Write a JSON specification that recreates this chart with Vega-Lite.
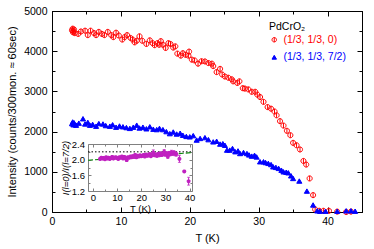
{
  "$schema": "https://vega.github.io/schema/vega-lite/v6.json",
  "autosize": {"type": "none"},
  "padding": {"left": 52, "top": 11, "right": 12, "bottom": 37},
  "width": 310,
  "height": 201,
  "background": "white",
  "config": {
    "font": "Liberation Sans",
    "view": {"stroke": "black", "strokeWidth": 1},
    "axis": {"grid": false, "labelFont": "Liberation Sans", "titleFont": "Liberation Sans", "labelFontSize": 10.5, "titleFontSize": 11, "titleFontWeight": "normal", "domainColor": "black", "tickColor": "black", "labelColor": "black", "titleColor": "black", "labelFlush": false, "labelOverlap": false},
    "legend": {"labelFont": "Liberation Sans", "titleFont": "Liberation Sans"}
  },
  "datasets": {
    "main": [
      {"T": 2.9, "I": 4520, "series": "(1/3, 1/3, 0)"}, {"T": 3.0, "I": 4560, "series": "(1/3, 1/3, 0)"}, {"T": 3.05, "I": 4470, "series": "(1/3, 1/3, 0)"}, {"T": 3.1, "I": 4500, "series": "(1/3, 1/3, 0)"}, {"T": 3.2, "I": 4540, "series": "(1/3, 1/3, 0)"}, {"T": 3.3, "I": 4450, "series": "(1/3, 1/3, 0)"},
      {"T": 3.8, "I": 4430, "series": "(1/3, 1/3, 0)"}, {"T": 4.2, "I": 4490, "series": "(1/3, 1/3, 0)"}, {"T": 4.8, "I": 4510, "series": "(1/3, 1/3, 0)"}, {"T": 5.2, "I": 4400, "series": "(1/3, 1/3, 0)"}, {"T": 5.6, "I": 4510, "series": "(1/3, 1/3, 0)"}, {"T": 6.1, "I": 4450, "series": "(1/3, 1/3, 0)"},
      {"T": 6.4, "I": 4400, "series": "(1/3, 1/3, 0)"}, {"T": 6.8, "I": 4480, "series": "(1/3, 1/3, 0)"}, {"T": 7.25, "I": 4430, "series": "(1/3, 1/3, 0)"}, {"T": 7.6, "I": 4400, "series": "(1/3, 1/3, 0)"}, {"T": 8.1, "I": 4480, "series": "(1/3, 1/3, 0)"}, {"T": 8.6, "I": 4400, "series": "(1/3, 1/3, 0)"},
      {"T": 8.9, "I": 4350, "series": "(1/3, 1/3, 0)"}, {"T": 9.3, "I": 4460, "series": "(1/3, 1/3, 0)"}, {"T": 9.7, "I": 4390, "series": "(1/3, 1/3, 0)"}, {"T": 10.2, "I": 4290, "series": "(1/3, 1/3, 0)"}, {"T": 10.55, "I": 4350, "series": "(1/3, 1/3, 0)"}, {"T": 10.9, "I": 4400, "series": "(1/3, 1/3, 0)"},
      {"T": 11.4, "I": 4330, "series": "(1/3, 1/3, 0)"}, {"T": 11.7, "I": 4290, "series": "(1/3, 1/3, 0)"}, {"T": 12.0, "I": 4220, "series": "(1/3, 1/3, 0)"}, {"T": 12.3, "I": 4260, "series": "(1/3, 1/3, 0)"}, {"T": 12.7, "I": 4370, "series": "(1/3, 1/3, 0)"}, {"T": 13.1, "I": 4260, "series": "(1/3, 1/3, 0)"},
      {"T": 13.7, "I": 4180, "series": "(1/3, 1/3, 0)"}, {"T": 14.2, "I": 4270, "series": "(1/3, 1/3, 0)"}, {"T": 14.6, "I": 4200, "series": "(1/3, 1/3, 0)"}, {"T": 14.9, "I": 4150, "series": "(1/3, 1/3, 0)"}, {"T": 15.3, "I": 4200, "series": "(1/3, 1/3, 0)"}, {"T": 15.55, "I": 4160, "series": "(1/3, 1/3, 0)"},
      {"T": 15.8, "I": 4250, "series": "(1/3, 1/3, 0)"}, {"T": 16.1, "I": 4160, "series": "(1/3, 1/3, 0)"}, {"T": 16.5, "I": 4080, "series": "(1/3, 1/3, 0)"}, {"T": 16.9, "I": 4200, "series": "(1/3, 1/3, 0)"}, {"T": 17.2, "I": 4180, "series": "(1/3, 1/3, 0)"}, {"T": 17.6, "I": 4090, "series": "(1/3, 1/3, 0)"},
      {"T": 17.9, "I": 4120, "series": "(1/3, 1/3, 0)"}, {"T": 18.2, "I": 3940, "series": "(1/3, 1/3, 0)"}, {"T": 18.7, "I": 3890, "series": "(1/3, 1/3, 0)"}, {"T": 19.0, "I": 3950, "series": "(1/3, 1/3, 0)"}, {"T": 19.4, "I": 3910, "series": "(1/3, 1/3, 0)"}, {"T": 19.8, "I": 3890, "series": "(1/3, 1/3, 0)"},
      {"T": 19.9, "I": 3990, "series": "(1/3, 1/3, 0)"}, {"T": 20.3, "I": 3790, "series": "(1/3, 1/3, 0)"}, {"T": 20.7, "I": 3770, "series": "(1/3, 1/3, 0)"}, {"T": 21.2, "I": 3690, "series": "(1/3, 1/3, 0)"}, {"T": 21.7, "I": 3750, "series": "(1/3, 1/3, 0)"}, {"T": 22.2, "I": 3745, "series": "(1/3, 1/3, 0)"},
      {"T": 22.7, "I": 3705, "series": "(1/3, 1/3, 0)"}, {"T": 23.2, "I": 3690, "series": "(1/3, 1/3, 0)"}, {"T": 23.4, "I": 3630, "series": "(1/3, 1/3, 0)"}, {"T": 23.9, "I": 3480, "series": "(1/3, 1/3, 0)"}, {"T": 24.4, "I": 3560, "series": "(1/3, 1/3, 0)"}, {"T": 24.7, "I": 3420, "series": "(1/3, 1/3, 0)"},
      {"T": 25.1, "I": 3370, "series": "(1/3, 1/3, 0)"}, {"T": 25.6, "I": 3340, "series": "(1/3, 1/3, 0)"}, {"T": 26.1, "I": 3300, "series": "(1/3, 1/3, 0)"}, {"T": 26.3, "I": 3250, "series": "(1/3, 1/3, 0)"}, {"T": 26.9, "I": 3210, "series": "(1/3, 1/3, 0)"}, {"T": 27.2, "I": 3250, "series": "(1/3, 1/3, 0)"},
      {"T": 27.7, "I": 3080, "series": "(1/3, 1/3, 0)"}, {"T": 28.0, "I": 3070, "series": "(1/3, 1/3, 0)"}, {"T": 28.5, "I": 3050, "series": "(1/3, 1/3, 0)"}, {"T": 29.0, "I": 2990, "series": "(1/3, 1/3, 0)"}, {"T": 29.5, "I": 2990, "series": "(1/3, 1/3, 0)"}, {"T": 29.8, "I": 2920, "series": "(1/3, 1/3, 0)"},
      {"T": 30.2, "I": 2860, "series": "(1/3, 1/3, 0)"}, {"T": 30.7, "I": 2740, "series": "(1/3, 1/3, 0)"}, {"T": 31.3, "I": 2610, "series": "(1/3, 1/3, 0)"}, {"T": 31.8, "I": 2570, "series": "(1/3, 1/3, 0)"}, {"T": 32.3, "I": 2500, "series": "(1/3, 1/3, 0)"}, {"T": 32.6, "I": 2405, "series": "(1/3, 1/3, 0)"},
      {"T": 33.1, "I": 2260, "series": "(1/3, 1/3, 0)"}, {"T": 33.6, "I": 2150, "series": "(1/3, 1/3, 0)"}, {"T": 34.1, "I": 2020, "series": "(1/3, 1/3, 0)"}, {"T": 34.6, "I": 1910, "series": "(1/3, 1/3, 0)"}, {"T": 35.0, "I": 1720, "series": "(1/3, 1/3, 0)"}, {"T": 35.5, "I": 1660, "series": "(1/3, 1/3, 0)"},
      {"T": 36.0, "I": 1555, "series": "(1/3, 1/3, 0)"}, {"T": 36.5, "I": 1270, "series": "(1/3, 1/3, 0)"}, {"T": 36.9, "I": 1180, "series": "(1/3, 1/3, 0)"}, {"T": 37.4, "I": 835, "series": "(1/3, 1/3, 0)"}, {"T": 37.9, "I": 420, "series": "(1/3, 1/3, 0)"}, {"T": 38.2, "I": 65, "series": "(1/3, 1/3, 0)"},
      {"T": 38.8, "I": 30, "series": "(1/3, 1/3, 0)"}, {"T": 39.4, "I": 30, "series": "(1/3, 1/3, 0)"}, {"T": 40.2, "I": 30, "series": "(1/3, 1/3, 0)"}, {"T": 41.4, "I": 10, "series": "(1/3, 1/3, 0)"}, {"T": 42.7, "I": 0, "series": "(1/3, 1/3, 0)"}, {"T": 43.4, "I": 10, "series": "(1/3, 1/3, 0)"},
      {"T": 2.9, "I": 2200, "series": "(1/3, 1/3, 7/2)"}, {"T": 3.0, "I": 2240, "series": "(1/3, 1/3, 7/2)"}, {"T": 3.1, "I": 2170, "series": "(1/3, 1/3, 7/2)"}, {"T": 3.2, "I": 2220, "series": "(1/3, 1/3, 7/2)"}, {"T": 3.3, "I": 2180, "series": "(1/3, 1/3, 7/2)"}, {"T": 3.5, "I": 2160, "series": "(1/3, 1/3, 7/2)"},
      {"T": 3.9, "I": 2210, "series": "(1/3, 1/3, 7/2)"}, {"T": 4.5, "I": 2320, "series": "(1/3, 1/3, 7/2)"}, {"T": 4.8, "I": 2190, "series": "(1/3, 1/3, 7/2)"}, {"T": 5.2, "I": 2230, "series": "(1/3, 1/3, 7/2)"}, {"T": 5.5, "I": 2160, "series": "(1/3, 1/3, 7/2)"}, {"T": 5.9, "I": 2180, "series": "(1/3, 1/3, 7/2)"},
      {"T": 6.4, "I": 2135, "series": "(1/3, 1/3, 7/2)"}, {"T": 6.8, "I": 2200, "series": "(1/3, 1/3, 7/2)"}, {"T": 7.4, "I": 2190, "series": "(1/3, 1/3, 7/2)"}, {"T": 7.8, "I": 2150, "series": "(1/3, 1/3, 7/2)"}, {"T": 8.4, "I": 2135, "series": "(1/3, 1/3, 7/2)"}, {"T": 8.8, "I": 2170, "series": "(1/3, 1/3, 7/2)"},
      {"T": 9.3, "I": 2110, "series": "(1/3, 1/3, 7/2)"}, {"T": 9.8, "I": 2140, "series": "(1/3, 1/3, 7/2)"}, {"T": 10.3, "I": 2120, "series": "(1/3, 1/3, 7/2)"}, {"T": 10.8, "I": 2100, "series": "(1/3, 1/3, 7/2)"}, {"T": 11.3, "I": 2080, "series": "(1/3, 1/3, 7/2)"}, {"T": 11.8, "I": 2110, "series": "(1/3, 1/3, 7/2)"},
      {"T": 12.3, "I": 2160, "series": "(1/3, 1/3, 7/2)"}, {"T": 12.7, "I": 2090, "series": "(1/3, 1/3, 7/2)"}, {"T": 13.2, "I": 2110, "series": "(1/3, 1/3, 7/2)"}, {"T": 13.7, "I": 2070, "series": "(1/3, 1/3, 7/2)"}, {"T": 14.2, "I": 2120, "series": "(1/3, 1/3, 7/2)"}, {"T": 14.7, "I": 2060, "series": "(1/3, 1/3, 7/2)"},
      {"T": 15.2, "I": 2050, "series": "(1/3, 1/3, 7/2)"}, {"T": 15.6, "I": 2080, "series": "(1/3, 1/3, 7/2)"}, {"T": 16.1, "I": 2050, "series": "(1/3, 1/3, 7/2)"}, {"T": 16.6, "I": 2000, "series": "(1/3, 1/3, 7/2)"}, {"T": 17.1, "I": 1950, "series": "(1/3, 1/3, 7/2)"}, {"T": 17.6, "I": 1990, "series": "(1/3, 1/3, 7/2)"},
      {"T": 18.1, "I": 1940, "series": "(1/3, 1/3, 7/2)"}, {"T": 18.6, "I": 1960, "series": "(1/3, 1/3, 7/2)"}, {"T": 19.0, "I": 1910, "series": "(1/3, 1/3, 7/2)"}, {"T": 19.5, "I": 1880, "series": "(1/3, 1/3, 7/2)"}, {"T": 20.0, "I": 1870, "series": "(1/3, 1/3, 7/2)"}, {"T": 20.5, "I": 1900, "series": "(1/3, 1/3, 7/2)"},
      {"T": 21.0, "I": 1790, "series": "(1/3, 1/3, 7/2)"}, {"T": 21.5, "I": 1830, "series": "(1/3, 1/3, 7/2)"}, {"T": 22.2, "I": 1850, "series": "(1/3, 1/3, 7/2)"}, {"T": 22.7, "I": 1800, "series": "(1/3, 1/3, 7/2)"}, {"T": 23.4, "I": 1745, "series": "(1/3, 1/3, 7/2)"}, {"T": 23.9, "I": 1760, "series": "(1/3, 1/3, 7/2)"},
      {"T": 24.4, "I": 1690, "series": "(1/3, 1/3, 7/2)"}, {"T": 24.8, "I": 1700, "series": "(1/3, 1/3, 7/2)"}, {"T": 25.1, "I": 1660, "series": "(1/3, 1/3, 7/2)"}, {"T": 25.4, "I": 1540, "series": "(1/3, 1/3, 7/2)"}, {"T": 25.8, "I": 1540, "series": "(1/3, 1/3, 7/2)"}, {"T": 26.2, "I": 1580, "series": "(1/3, 1/3, 7/2)"},
      {"T": 26.6, "I": 1500, "series": "(1/3, 1/3, 7/2)"}, {"T": 27.0, "I": 1520, "series": "(1/3, 1/3, 7/2)"}, {"T": 27.3, "I": 1455, "series": "(1/3, 1/3, 7/2)"}, {"T": 27.8, "I": 1480, "series": "(1/3, 1/3, 7/2)"}, {"T": 28.3, "I": 1455, "series": "(1/3, 1/3, 7/2)"}, {"T": 28.6, "I": 1420, "series": "(1/3, 1/3, 7/2)"},
      {"T": 29.0, "I": 1390, "series": "(1/3, 1/3, 7/2)"}, {"T": 29.4, "I": 1410, "series": "(1/3, 1/3, 7/2)"}, {"T": 29.7, "I": 1370, "series": "(1/3, 1/3, 7/2)"}, {"T": 30.2, "I": 1250, "series": "(1/3, 1/3, 7/2)"}, {"T": 30.7, "I": 1250, "series": "(1/3, 1/3, 7/2)"}, {"T": 31.0, "I": 1230, "series": "(1/3, 1/3, 7/2)"},
      {"T": 31.4, "I": 1210, "series": "(1/3, 1/3, 7/2)"}, {"T": 31.8, "I": 1180, "series": "(1/3, 1/3, 7/2)"}, {"T": 32.1, "I": 1125, "series": "(1/3, 1/3, 7/2)"}, {"T": 32.5, "I": 1110, "series": "(1/3, 1/3, 7/2)"}, {"T": 32.9, "I": 1085, "series": "(1/3, 1/3, 7/2)"}, {"T": 33.3, "I": 1040, "series": "(1/3, 1/3, 7/2)"},
      {"T": 33.6, "I": 1000, "series": "(1/3, 1/3, 7/2)"}, {"T": 34.0, "I": 990, "series": "(1/3, 1/3, 7/2)"}, {"T": 34.3, "I": 975, "series": "(1/3, 1/3, 7/2)"}, {"T": 34.7, "I": 900, "series": "(1/3, 1/3, 7/2)"}, {"T": 35.0, "I": 835, "series": "(1/3, 1/3, 7/2)"}, {"T": 35.9, "I": 770, "series": "(1/3, 1/3, 7/2)"},
      {"T": 37.0, "I": 520, "series": "(1/3, 1/3, 7/2)"}, {"T": 37.9, "I": 175, "series": "(1/3, 1/3, 7/2)"}, {"T": 38.5, "I": 30, "series": "(1/3, 1/3, 7/2)"}, {"T": 38.9, "I": 20, "series": "(1/3, 1/3, 7/2)"}, {"T": 39.7, "I": 20, "series": "(1/3, 1/3, 7/2)"}, {"T": 41.4, "I": 20, "series": "(1/3, 1/3, 7/2)"},
      {"T": 42.7, "I": 30, "series": "(1/3, 1/3, 7/2)"}, {"T": 43.4, "I": 30, "series": "(1/3, 1/3, 7/2)"}, {"T": 44.0, "I": 20, "series": "(1/3, 1/3, 7/2)"}
    ],
    "ratio": [
      {"T": 3.0, "r": 2.02, "e": 0.03}, {"T": 3.5, "r": 2.05, "e": 0.03}, {"T": 4.0, "r": 2.03, "e": 0.03}, {"T": 4.5, "r": 2.04, "e": 0.03}, {"T": 5.0, "r": 2.01, "e": 0.03}, {"T": 5.5, "r": 2.06, "e": 0.03},
      {"T": 6.0, "r": 2.03, "e": 0.03}, {"T": 6.5, "r": 2.05, "e": 0.03}, {"T": 7.0, "r": 2.02, "e": 0.03}, {"T": 7.5, "r": 2.04, "e": 0.03}, {"T": 8.0, "r": 2.07, "e": 0.03}, {"T": 8.5, "r": 2.03, "e": 0.03},
      {"T": 9.0, "r": 2.05, "e": 0.03}, {"T": 9.5, "r": 2.06, "e": 0.03}, {"T": 10.0, "r": 2.04, "e": 0.03}, {"T": 10.5, "r": 2.02, "e": 0.03}, {"T": 11.0, "r": 2.06, "e": 0.03}, {"T": 11.5, "r": 2.05, "e": 0.03},
      {"T": 12.0, "r": 2.08, "e": 0.03}, {"T": 12.5, "r": 2.03, "e": 0.03}, {"T": 13.0, "r": 2.07, "e": 0.03}, {"T": 13.5, "r": 2.04, "e": 0.03}, {"T": 14.0, "r": 1.99, "e": 0.03}, {"T": 14.5, "r": 2.06, "e": 0.03},
      {"T": 15.0, "r": 2.05, "e": 0.03}, {"T": 15.5, "r": 2.08, "e": 0.03}, {"T": 16.0, "r": 2.06, "e": 0.03}, {"T": 16.5, "r": 2.09, "e": 0.03}, {"T": 17.0, "r": 2.07, "e": 0.03}, {"T": 17.5, "r": 2.12, "e": 0.04},
      {"T": 18.0, "r": 2.06, "e": 0.03}, {"T": 18.5, "r": 2.10, "e": 0.03}, {"T": 19.0, "r": 2.08, "e": 0.03}, {"T": 19.5, "r": 2.11, "e": 0.03}, {"T": 20.0, "r": 2.09, "e": 0.03}, {"T": 20.5, "r": 2.10, "e": 0.03},
      {"T": 21.0, "r": 2.12, "e": 0.03}, {"T": 21.5, "r": 2.08, "e": 0.03}, {"T": 22.0, "r": 2.13, "e": 0.03}, {"T": 22.5, "r": 2.10, "e": 0.03}, {"T": 23.0, "r": 2.11, "e": 0.03}, {"T": 23.5, "r": 2.14, "e": 0.04},
      {"T": 24.0, "r": 2.09, "e": 0.03}, {"T": 24.5, "r": 2.12, "e": 0.03}, {"T": 25.0, "r": 2.18, "e": 0.07}, {"T": 25.5, "r": 2.11, "e": 0.03}, {"T": 26.0, "r": 2.13, "e": 0.03}, {"T": 26.5, "r": 2.10, "e": 0.04},
      {"T": 27.0, "r": 2.15, "e": 0.03}, {"T": 27.5, "r": 2.11, "e": 0.03}, {"T": 28.0, "r": 2.16, "e": 0.04}, {"T": 28.5, "r": 2.12, "e": 0.03}, {"T": 29.0, "r": 2.14, "e": 0.04}, {"T": 29.5, "r": 2.20, "e": 0.06},
      {"T": 30.0, "r": 2.13, "e": 0.04}, {"T": 30.5, "r": 2.16, "e": 0.04}, {"T": 31.0, "r": 2.08, "e": 0.05}, {"T": 31.5, "r": 2.17, "e": 0.04}, {"T": 32.0, "r": 2.14, "e": 0.04}, {"T": 32.5, "r": 2.19, "e": 0.05},
      {"T": 33.0, "r": 2.15, "e": 0.04}, {"T": 33.5, "r": 2.18, "e": 0.05}, {"T": 34.0, "r": 2.15, "e": 0.05}, {"T": 34.5, "r": 2.14, "e": 0.05}, {"T": 35.8, "r": 2.02, "e": 0.09}, {"T": 37.8, "r": 1.70, "e": 0.02},
      {"T": 39.6, "r": 1.45, "e": 0.1}
    ],
    "ref": [{"T": -2, "r": 2.2}, {"T": 41, "r": 2.2}],
    "fit": [{"T": -2, "r": 1.985}, {"T": 41, "r": 2.18}]
  },
  "layer": [
    {
      "layer": [
        {
          "data": {"name": "main"},
          "mark": {"type": "point", "opacity": 1, "strokeWidth": 1},
          "encoding": {
            "x": {"field": "T", "type": "quantitative", "scale": {"domain": [0, 45], "nice": false, "zero": false},
              "axis": {"orient": "bottom", "values": [0, 5, 10, 15, 20, 25, 30, 35, 40, 45], "labelExpr": "datum.value % 10 === 0 ? datum.label : ''", "tickSize": {"condition": {"test": "datum.value % 10 === 0", "value": -5}, "value": -3}, "labelPadding": 9.5, "title": "T (K)", "titlePadding": 3}},
            "y": {"field": "I", "type": "quantitative", "scale": {"domain": [0, 5000], "nice": false},
              "axis": {"orient": "left", "values": [0, 500, 1000, 1500, 2000, 2500, 3000, 3500, 4000, 4500, 5000], "labelExpr": "datum.value % 1000 === 0 ? datum.label : ''", "format": "d", "tickSize": {"condition": {"test": "datum.value % 1000 === 0", "value": -5}, "value": -3}, "labelPadding": 10, "title": "Intensity (counts/300mon. ≈ 60sec)", "titlePadding": 6}},
            "stroke": {"field": "series", "type": "nominal", "scale": {"domain": ["(1/3, 1/3, 0)", "(1/3, 1/3, 7/2)"], "range": ["#ff0000", "#0000ff"]},
              "legend": {"orient": "none", "legendX": 217, "legendY": 11, "title": "PdCrO₂", "titleFontWeight": "normal", "titleFontSize": 10.5, "titleColor": "black", "labelFontSize": 10.5, "symbolSize": 20, "symbolStrokeWidth": 1, "rowPadding": 6.5, "titlePadding": 2, "labelOffset": 4,
                "encoding": {"labels": {"fill": {"condition": {"test": "datum.value === '(1/3, 1/3, 0)'", "value": "#ff0000"}, "value": "#0000ff"}}}}},
            "fill": {"field": "series", "type": "nominal", "scale": {"domain": ["(1/3, 1/3, 0)", "(1/3, 1/3, 7/2)"], "range": ["transparent", "#0000ff"]},
              "legend": {"orient": "none", "legendX": 217, "legendY": 11, "title": "PdCrO₂", "titleFontWeight": "normal", "titleFontSize": 10.5, "titleColor": "black", "labelFontSize": 10.5, "symbolSize": 20, "symbolStrokeWidth": 1, "rowPadding": 6.5, "titlePadding": 2, "labelOffset": 4,
                "encoding": {"labels": {"fill": {"condition": {"test": "datum.value === '(1/3, 1/3, 0)'", "value": "#ff0000"}, "value": "#0000ff"}}}}},
            "shape": {"field": "series", "type": "nominal", "scale": {"domain": ["(1/3, 1/3, 0)", "(1/3, 1/3, 7/2)"], "range": ["M0,-1L0,1M1,0A1,1,0,1,1,-1,0A1,1,0,1,1,1,0Z", "triangle-up"]},
              "legend": {"orient": "none", "legendX": 217, "legendY": 11, "title": "PdCrO₂", "titleFontWeight": "normal", "titleFontSize": 10.5, "titleColor": "black", "labelFontSize": 10.5, "symbolSize": 20, "symbolStrokeWidth": 1, "rowPadding": 6.5, "titlePadding": 2, "labelOffset": 4,
                "encoding": {"labels": {"fill": {"condition": {"test": "datum.value === '(1/3, 1/3, 0)'", "value": "#ff0000"}, "value": "#0000ff"}}}}},
            "size": {"value": 26}
          }
        },
        {
          "data": {"name": "main"},
          "mark": {"type": "point", "opacity": 0},
          "encoding": {
            "x": {"field": "T", "type": "quantitative",
              "axis": {"orient": "top", "values": [0, 5, 10, 15, 20, 25, 30, 35, 40, 45], "labels": false, "tickSize": {"condition": {"test": "datum.value % 10 === 0", "value": -5}, "value": -3}, "title": null}},
            "y": {"field": "I", "type": "quantitative",
              "axis": {"orient": "right", "values": [0, 500, 1000, 1500, 2000, 2500, 3000, 3500, 4000, 4500, 5000], "labels": false, "tickSize": {"condition": {"test": "datum.value % 1000 === 0", "value": -5}, "value": -3}, "title": null}}
          }
        }
      ],
      "resolve": {"axis": {"x": "independent", "y": "independent"}}
    },
    {
      "layer": [
        {
          "data": {"name": "ref"},
          "mark": {"type": "line", "color": "black", "strokeWidth": 1, "strokeDash": [1.5, 2]},
          "encoding": {
            "x": {"field": "T", "type": "quantitative", "scale": {"domain": [-2, 41], "range": [36, 140], "nice": false, "zero": false}, "axis": null},
            "y": {"field": "r", "type": "quantitative", "scale": {"domain": [1.2, 2.4], "range": [180, 133], "nice": false, "zero": false}, "axis": null}
          }
        },
        {
          "data": {"name": "fit"},
          "mark": {"type": "line", "color": "#118811", "strokeWidth": 1.2, "strokeDash": [5, 2]},
          "encoding": {
            "x": {"field": "T", "type": "quantitative", "axis": null},
            "y": {"field": "r", "type": "quantitative", "axis": null}
          }
        },
        {
          "data": {"name": "ratio"},
          "mark": {"type": "errorbar", "color": "#c020c0", "thickness": 1, "ticks": {"size": 3, "color": "#c020c0"}},
          "encoding": {
            "x": {"field": "T", "type": "quantitative", "axis": null},
            "y": {"field": "r", "type": "quantitative", "axis": null},
            "yError": {"field": "e"}
          }
        },
        {
          "data": {"name": "ratio"},
          "mark": {"type": "point", "opacity": 1, "strokeWidth": 1.2, "color": "#c020c0", "shape": "M-1,0L1,0M0,-1L0,1M-0.7,-0.7L0.7,0.7M-0.7,0.7L0.7,-0.7", "size": 16},
          "encoding": {
            "x": {"field": "T", "type": "quantitative",
              "axis": {"orient": "bottom", "offset": -21, "domain": true, "domainColor": "#808080", "tickColor": "#808080", "values": [0, 5, 10, 15, 20, 25, 30, 35, 40], "labelExpr": "datum.value % 10 === 0 ? datum.label : ''", "tickSize": {"condition": {"test": "datum.value % 10 === 0", "value": -3}, "value": -2}, "labelPadding": 4.5, "labelFontSize": 9.5, "title": "T (K)", "titleFontSize": 9.5, "titlePadding": 0}},
            "y": {"field": "r", "type": "quantitative",
              "axis": {"orient": "left", "offset": -36, "domain": true, "domainColor": "#808080", "tickColor": "#808080", "values": [1.2, 1.4, 1.6, 1.8, 2.0, 2.2, 2.4], "format": ".1f", "labelExpr": "abs(datum.value*2.5 - round(datum.value*2.5)) < 0.01 ? format(datum.value, '.1f') : ''", "tickSize": {"condition": {"test": "abs(datum.value*2.5 - round(datum.value*2.5)) < 0.01", "value": -3}, "value": -2}, "labelPadding": 6.5, "labelFontSize": 9.5, "title": "I(l=0)/I(l=7/2)", "titleFontStyle": "italic", "titleFontSize": 9.5, "titlePadding": 1}}
          }
        },
        {
          "data": {"name": "ratio"},
          "mark": {"type": "point", "opacity": 0},
          "encoding": {
            "x": {"field": "T", "type": "quantitative",
              "axis": {"orient": "top", "offset": -133, "domain": true, "domainColor": "#808080", "tickColor": "#808080", "values": [0, 5, 10, 15, 20, 25, 30, 35, 40], "labels": false, "tickSize": {"condition": {"test": "datum.value % 10 === 0", "value": -3}, "value": -2}, "title": null}},
            "y": {"field": "r", "type": "quantitative",
              "axis": {"orient": "right", "offset": -170, "domain": true, "domainColor": "#808080", "tickColor": "#808080", "values": [1.2, 1.4, 1.6, 1.8, 2.0, 2.2, 2.4], "labels": false, "tickSize": {"condition": {"test": "abs(datum.value*2.5 - round(datum.value*2.5)) < 0.01", "value": -3}, "value": -2}, "title": null}}
          }
        }
      ],
      "resolve": {"axis": {"x": "independent", "y": "independent"}}
    }
  ],
  "resolve": {"scale": {"x": "independent", "y": "independent", "stroke": "independent", "fill": "independent", "shape": "independent"}}
}
